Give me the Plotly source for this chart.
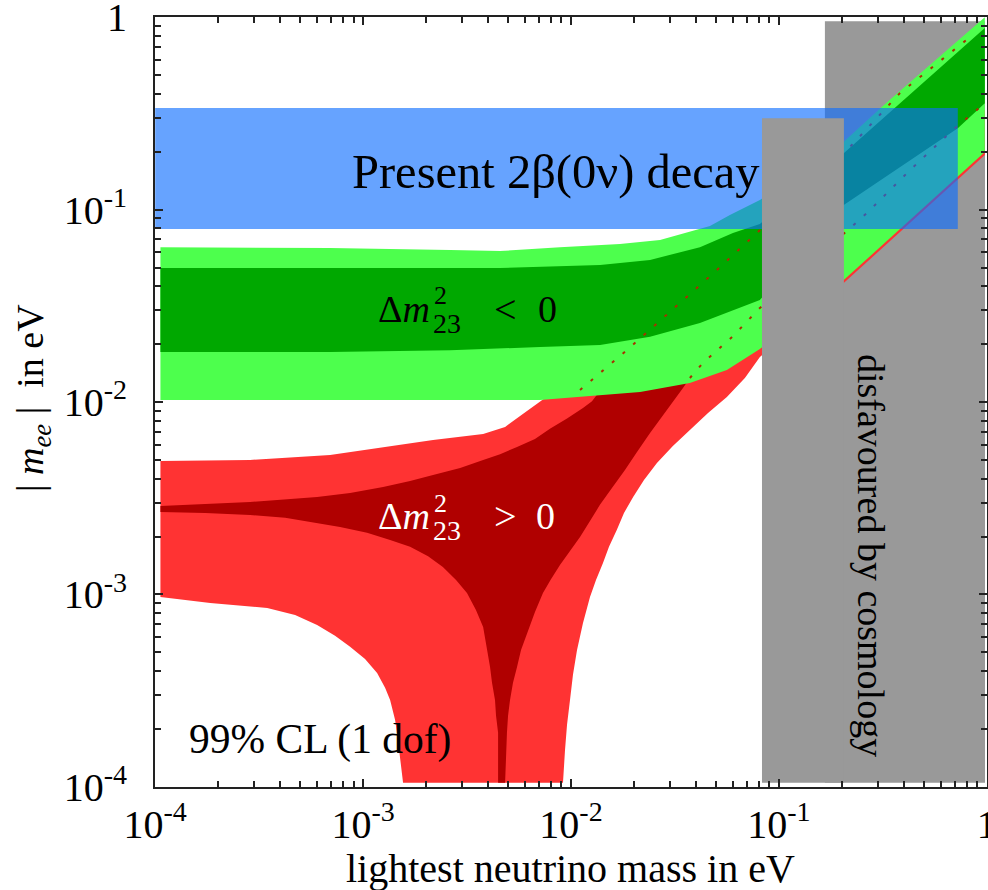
import plotly.graph_objects as go

FONT = "Liberation Serif, Times New Roman, serif"

# ---------------- data (eV) ----------------
# Inverted hierarchy, 99% CL band (light green)
ih99_upper_m   = [1.06e-4, 6.94e-4, 2.62e-3, 4.56e-3, 8.85e-3, 1.72e-2, 2.68e-2, 3.73e-2, 4.66e-2, 5.81e-2, 8.10e-2, 0.205, 0.33, 0.978]
ih99_upper_mee = [0.0638, 0.0631, 0.0616, 0.0609, 0.0638, 0.0662, 0.0694, 0.0764, 0.0821, 0.0936, 0.112, 0.225, 0.36, 1.0]
ih99_lower_m   = [1.06e-4, 6.94e-4, 7.10e-3, 2.15e-2, 3.73e-2, 5.62e-2, 8.10e-2, 0.205, 0.978]
ih99_lower_mee = [0.01024, 0.01024, 0.01024, 0.01127, 0.01255, 0.01466, 0.01885, 0.0430, 0.199]

# Inverted hierarchy, best-fit band (dark green)
ihbf_upper_m   = [1.06e-4, 6.94e-4, 4.56e-3, 1.38e-2, 2.40e-2, 4.17e-2, 6.01e-2, 8.10e-2, 0.205, 0.978]
ihbf_upper_mee = [0.0497, 0.0497, 0.0497, 0.0515, 0.0547, 0.0638, 0.0755, 0.0841, 0.1965, 0.877]
ihbf_lower_m   = [1.06e-4, 6.94e-4, 2.62e-3, 7.10e-3, 1.38e-2, 2.40e-2, 4.17e-2, 8.10e-2, 0.205, 0.725, 0.978]
ihbf_lower_mee = [0.0182, 0.0182, 0.0186, 0.0193, 0.0198, 0.0218, 0.0257, 0.0339, 0.1055, 0.265, 0.357]

# Normal hierarchy, 99% CL region (light red) - outline
nh99_m   = [1.06e-4, 2.86e-4, 6.94e-4, 1.248e-3, 2.17e-3, 3.78e-3, 4.82e-3, 5.69e-3, 6.71e-3, 7.50e-3,
            1.38e-2, 4.17e-2, 8.10e-2, 0.205, 0.978,
            0.978, 0.205, 8.10e-2, 0.0686, 5.62e-2, 0.0456, 3.73e-2, 0.0309, 2.59e-2, 0.02244, 1.99e-2,
            0.01798, 1.66e-2, 0.01523, 1.425e-2, 0.01319, 1.234e-2, 1.142e-2, 1.069e-2, 0.01022, 9.89e-3,
            0.00957, 9.36e-3, 9.15e-3,
            1.557e-3, 1.506e-3, 1.457e-3, 1.425e-3, 1.349e-3, 1.276e-3, 1.168e-3, 1.022e-3, 8.66e-4,
            7.33e-4, 6.01e-4, 4.71e-4, 3.46e-4, 1.84e-4, 1.06e-4]
nh99_mee = [0.00494, 0.0050, 0.0053, 0.00584, 0.00635, 0.00682, 0.00742, 0.00846, 0.00965, 0.01049,
            0.0135, 0.0251, 0.0339, 0.0831, 0.329,
            0.192, 0.0415, 0.01713, 0.01333, 0.01062, 0.00877, 0.00715, 0.00591, 0.00482, 0.00393, 0.00321,
            0.00265, 0.00216, 0.00177, 0.001458, 0.00119, 0.00097, 0.000711, 0.000515, 0.000382, 0.000283,
            0.00021, 0.000156, 1.05e-4,
            1.05e-4, 0.000147, 0.000191, 0.000223, 0.000283, 0.000327, 0.000391, 0.000462, 0.000534,
            0.000609, 0.000694, 0.000782, 0.000851, 0.000903, 0.00097]

# Normal hierarchy, best-fit region (dark red) - outline
nhbf_m   = [1.06e-4, 2.86e-4, 6.01e-4, 8.66e-4, 1.248e-3, 1.683e-3, 2.17e-3, 2.93e-3, 3.78e-3, 4.56e-3,
            5.50e-3, 6.71e-3, 7.92e-3, 9.57e-3, 1.142e-2, 1.262e-2,
            1.859e-2, 3.06e-2, 5.03e-2, 7.02e-2, 0.224, 0.382, 0.686, 0.978,
            0.978, 0.686, 0.426, 0.265, 8.10e-2, 6.01e-2, 4.31e-2, 3.73e-2,
            3.456e-2, 0.0283, 2.40e-2, 0.02077, 1.818e-2, 0.01574, 1.378e-2, 1.234e-2, 1.105e-2, 9.89e-3,
            8.85e-3, 8.01e-3, 7.33e-3, 6.71e-3, 6.14e-3, 5.75e-3, 5.50e-3, 5.26e-3, 5.09e-3, 4.98e-3,
            4.92e-3, 4.87e-3, 4.82e-3,
            4.46e-3, 4.46e-3, 4.46e-3, 4.36e-3, 4.31e-3, 4.17e-3, 4.08e-3, 3.95e-3, 3.78e-3, 3.49e-3,
            3.16e-3, 2.80e-3, 2.42e-3, 2.054e-3, 1.683e-3, 1.349e-3, 1.045e-3, 7.75e-4, 6.01e-4, 4.22e-4,
            2.86e-4, 1.74e-4, 1.06e-4]
nhbf_mee = [0.00288, 0.00302, 0.00321, 0.00337, 0.00362, 0.00389, 0.00418, 0.00454, 0.0050, 0.00535,
            0.00584, 0.00642, 0.00725, 0.0082, 0.0093, 0.0101,
            0.0175, 0.0285, 0.046, 0.064, 0.20, 0.37, 0.63, 0.86,
            0.357, 0.259, 0.160, 0.0959, 0.0308, 0.0220, 0.01594, 0.01333,
            0.01182, 0.00887, 0.0069, 0.0055, 0.00443, 0.00357, 0.00292, 0.00241, 0.00199, 0.00168,
            0.001423, 0.0012, 0.001018, 0.000811, 0.000631, 0.000515, 0.00042, 0.000347, 0.000283, 0.000234,
            0.000191, 0.000147, 1.05e-4,
            1.05e-4, 0.000147, 0.000191, 0.000234, 0.000283, 0.000347, 0.00042, 0.000515, 0.000678, 0.00083,
            0.001018, 0.00119, 0.00139, 0.00158, 0.00177, 0.00192, 0.00209, 0.00224, 0.00235, 0.0025,
            0.00259, 0.00265, 0.00268]

# Dotted continuation of the normal-hierarchy best-fit edges
nh_edge_a_m   = [1.105e-2, 1.859e-2, 3.06e-2, 5.03e-2, 7.02e-2, 0.224, 0.382, 0.686, 0.829]
nh_edge_a_mee = [0.01154, 0.01863, 0.03005, 0.0485, 0.0678, 0.2163, 0.403, 0.674, 0.787]
nh_edge_b_m   = [3.73e-2, 4.31e-2, 6.01e-2, 8.10e-2, 0.265, 0.426, 0.686, 0.978]
nh_edge_b_mee = [0.01333, 0.01594, 0.0220, 0.0308, 0.0959, 0.160, 0.259, 0.357]

# Present 0nu2beta bound band
dbd_m   = [1.0e-4, 0.725]
dbd_mee = [0.0792, 0.337]

# Cosmology disfavoured regions
cosmo_wide_m     = [0.1664, 0.98]
cosmo_wide_mee   = [1.05e-4, 0.953]
cosmo_narrow_m   = [0.0829, 0.2054]
cosmo_narrow_mee = [1.05e-4, 0.2987]

tick_vals = [1e-4, 1e-3, 1e-2, 1e-1, 1]
tick_text = ["10<sup>-4</sup>", "10<sup>-3</sup>", "10<sup>-2</sup>", "10<sup>-1</sup>", "1"]
minor_mant = [2, 3, 4, 5, 6, 7, 8, 9]
decades = [1e-4, 1e-3, 1e-2, 1e-1]

# ---------------- figure ----------------
def band(um, uy, lm, ly):
    return um + lm[::-1], uy + ly[::-1]

def rect(xr, yr):
    return [xr[0], xr[1], xr[1], xr[0], xr[0]], [yr[0], yr[0], yr[1], yr[1], yr[0]]

fig = go.Figure()

def poly(x, y, color):
    fig.add_trace(go.Scatter(x=x, y=y, mode="lines", fill="toself", fillcolor=color,
                             line=dict(width=0, color=color), hoverinfo="skip", showlegend=False))

gx, gy = rect(cosmo_wide_m, cosmo_wide_mee)
poly(gx, gy, "#999999")
poly(nh99_m, nh99_mee, "#FF3333")
poly(nhbf_m, nhbf_mee, "#B00000")
x, y = band(ih99_upper_m, ih99_upper_mee, ih99_lower_m, ih99_lower_mee)
poly(x, y, "#4DFF4D")
x, y = band(ihbf_upper_m, ihbf_upper_mee, ihbf_lower_m, ihbf_lower_mee)
poly(x, y, "#00A800")

for xm, ym in [(nh_edge_a_m, nh_edge_a_mee), (nh_edge_b_m, nh_edge_b_mee)]:
    fig.add_trace(go.Scatter(x=xm, y=ym, mode="lines",
                             line=dict(color="#A83000", width=2, dash="3px,11px"),
                             hoverinfo="skip", showlegend=False))

bx, by = rect(dbd_m, dbd_mee)
poly(bx, by, "rgba(12,109,255,0.63)")
sx, sy = rect(cosmo_narrow_m, cosmo_narrow_mee)
poly(sx, sy, "#999999")

# plot-area geometry for placing text labels
L, R, T, B = 155, 987, 17, 787
W, H = 988, 890
def pp(xp, yp):
    return (xp - L) / (R - L), (B - yp) / (B - T)

anns = []
def label(text, xp, yp, size, color="black", xa="center", ya="middle", angle=0):
    px_, py_ = pp(xp, yp)
    anns.append(dict(text=text, x=px_, y=py_, xref="paper", yref="paper", showarrow=False,
                     xanchor=xa, yanchor=ya, textangle=angle, borderpad=0,
                     font=dict(family=FONT, size=size, color=color)))

label("Present 2β(0ν) decay", 556, 172, 48.5)
label("Δ<i>m</i>", 431, 309, 38, xa="right")
label("2", 433, 296, 26, xa="left")
label("23", 432, 323, 28, xa="left")
label("<", 505, 309, 40)
label("0", 547, 309, 38)
label("Δ<i>m</i>", 431, 516, 38, color="white", xa="right")
label("2", 433, 503, 26, color="white", xa="left")
label("23", 432, 530, 28, color="white", xa="left")
label(">", 505, 516, 40, color="white")
label("0", 545, 516, 38, color="white")
label("99% CL (1 dof)", 320, 739, 41.5)
label("disfavoured by cosmology", 871, 555, 38, angle=90)
label("lightest neutrino mass in eV", 570, 869, 40)
label("| <i>m</i><sub><i>ee</i></sub> |  in eV", 33, 398, 38, angle=-90)

axis_common = dict(type="log", range=[-4.0008, 0.0008], tickvals=tick_vals, ticktext=tick_text,
                   ticks="inside", ticklen=8, tickwidth=1.5, tickcolor="#222",
                   showline=True, linecolor="#222", linewidth=2, mirror="ticks",
                   showgrid=False, zeroline=False, ticklabeloverflow="allow", automargin=False,
                   tickfont=dict(family=FONT, size=40, color="black"),
                   minor=dict(tickvals=[m * d for d in decades for m in minor_mant],
                              ticks="inside", ticklen=6, tickwidth=1.5, tickcolor="#222",
                              showgrid=False))

fig.update_layout(
    width=W, height=H, autosize=False,
    margin=dict(l=L, r=W - R, t=T, b=H - B, autoexpand=False),
    paper_bgcolor="white", plot_bgcolor="white",
    showlegend=False,
    xaxis=dict(axis_common, ticklabelstandoff=1),
    yaxis=dict(axis_common, ticklabelstandoff=18),
    annotations=anns,
)

fig.write_html("out.html")
